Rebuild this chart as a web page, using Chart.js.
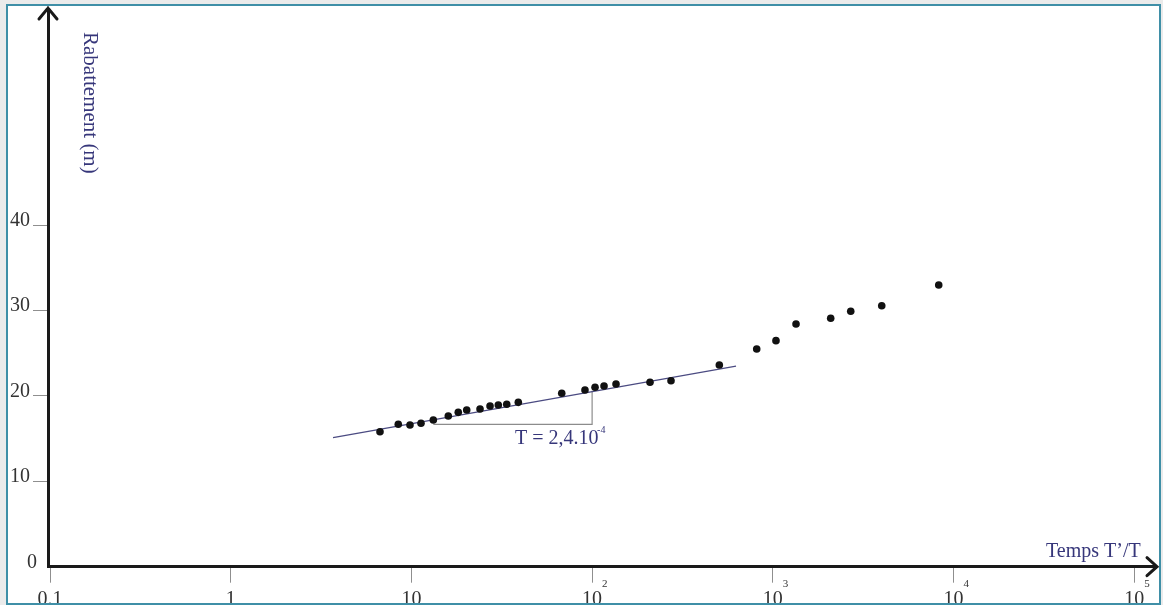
<!DOCTYPE html>
<html>
<head>
<meta charset="utf-8">
<script src="https://cdn.jsdelivr.net/npm/chart.js@4.4.1/dist/chart.umd.min.js"></script>
<style>
  html, body { margin: 0; padding: 0; background: #ebebeb; width: 1163px; height: 605px; overflow: hidden; }
  #frame { position: absolute; left: 6px; top: 4px; width: 1155px; height: 601px; box-sizing: border-box;
           border: 2px solid #3f8fa7; background: #fff; overflow: hidden; }
  #wrap { position: absolute; left: -8px; top: -6px; width: 1163px; height: 605px; }
</style>
</head>
<body>
<div id="frame"><div id="wrap"><canvas id="c" width="1163" height="605"></canvas></div></div>
<script>
// Temps T'/T (axe logarithmique) et rabattement résiduel mesuré (m)
const tempsRatio = [6.70, 8.46, 9.82, 11.3, 13.22, 16.0, 18.17, 20.23, 23.97, 27.23, 30.26, 33.69, 39.05,
                    67.9, 91.3, 103.8, 116.4, 135.6, 209.1, 273.3, 505.8, 814.5, 1041, 1344, 2091, 2699, 4006, 8282];
const rabattement = [15.80, 16.67, 16.59, 16.79, 17.17, 17.64, 18.07, 18.34, 18.46, 18.81, 18.93, 19.01, 19.24,
                     20.30, 20.68, 21.00, 21.15, 21.39, 21.59, 21.77, 23.61, 25.48, 26.46, 28.41, 29.08, 29.90, 30.55, 32.98];

// droite d'ajustement (partie linéaire)
const droiteX = [3.683, 625.7];
const droiteY = [15.12, 23.49];

// construction de la pente sur un cycle logarithmique
const penteX = [13.22, 100, 100];
const penteY = [16.65, 16.65, 20.6];

// graduations
const xTicks = [0.1, 1, 10, 100, 1000, 10000, 100000];
const xTickBase = ['0.1', '1', '10', '10', '10', '10', '10'];
const xTickExp = ['', '', '', '2', '3', '4', '5'];
const yTicks = [0, 10, 20, 30, 40];
const yTickLabels = ['0', '10', '20', '30', '40'];

// textes
const yTitle = 'Rabattement (m)';
const xTitle = 'Temps T\u2019/T';
const transLabel = 'T = 2,4.10';
const transExp = '-4';

const serif = "'Liberation Serif', 'DejaVu Serif', serif";
const navy = '#36367a';

const decor = {
  id: 'decor',
  afterDraw(chart) {
    const { ctx, chartArea: a, scales: { x, y } } = chart;
    const x0 = a.left, y0 = a.bottom;
    ctx.save();

    // flèches au bout des axes
    ctx.strokeStyle = '#1a1a1a';
    ctx.lineWidth = 3;
    ctx.lineCap = 'round';
    ctx.lineJoin = 'miter';
    ctx.beginPath();
    ctx.moveTo(x0, a.top); ctx.lineTo(x0, a.top - 2);
    ctx.moveTo(x0 - 9, a.top + 9); ctx.lineTo(x0, a.top - 2); ctx.lineTo(x0 + 9, a.top + 9);
    ctx.moveTo(a.right, y0); ctx.lineTo(a.right + 2, y0);
    ctx.moveTo(a.right - 8, y0 - 9); ctx.lineTo(a.right + 2, y0); ctx.lineTo(a.right - 8, y0 + 9);
    ctx.stroke();

    // étiquettes de l'axe horizontal (puissances de 10)
    ctx.fillStyle = '#333';
    ctx.textBaseline = 'alphabetic';
    xTicks.forEach((v, i) => {
      const px = x.getPixelForValue(v);
      ctx.font = `20px ${serif}`;
      ctx.textAlign = 'center';
      ctx.fillText(xTickBase[i], px, 604.5);
      if (xTickExp[i]) {
        const w = ctx.measureText(xTickBase[i]).width;
        ctx.font = `11px ${serif}`;
        ctx.textAlign = 'left';
        ctx.fillText(xTickExp[i], px + w / 2, 587);
      }
    });

    // étiquettes de l'axe vertical
    ctx.font = `20px ${serif}`;
    ctx.textAlign = 'right';
    yTicks.forEach((v, i) => {
      const py = y.getPixelForValue(v);
      ctx.fillText(yTickLabels[i], v === 0 ? x0 - 11 : x0 - 18, py + 1);
    });

    // titres des axes
    ctx.fillStyle = navy;
    ctx.font = `20px ${serif}`;
    ctx.textAlign = 'left';
    ctx.fillText(xTitle, a.right - 109, y0 - 10);
    ctx.save();
    ctx.translate(x0 + 36, a.top + 22);
    ctx.rotate(Math.PI / 2);
    ctx.font = `21px ${serif}`;
    ctx.fillText(yTitle, 0, 0);
    ctx.restore();

    // valeur de la transmissivité
    const tx = x.getPixelForValue(penteX[1]);
    const ty = y.getPixelForValue(penteY[0]);
    ctx.textAlign = 'right';
    ctx.font = `20px ${serif}`;
    ctx.fillText(transLabel, tx + 6.5, ty + 19.5);
    ctx.textAlign = 'left';
    ctx.font = `10px ${serif}`;
    ctx.fillText(transExp, tx + 5, ty + 9);

    ctx.restore();
  }
};

new Chart(document.getElementById('c'), {
  type: 'scatter',
  data: {
    datasets: [
      {
        data: tempsRatio.map((t, i) => ({ x: t, y: rabattement[i] })),
        backgroundColor: '#111',
        borderColor: '#111',
        borderWidth: 0,
        pointRadius: 3.8,
        showLine: false
      },
      {
        data: droiteX.map((t, i) => ({ x: t, y: droiteY[i] })),
        showLine: true,
        borderColor: '#4b4b82',
        borderWidth: 1.2,
        pointRadius: 0
      },
      {
        data: penteX.map((t, i) => ({ x: t, y: penteY[i] })),
        showLine: true,
        borderColor: '#8c8c8c',
        borderWidth: 1.2,
        pointRadius: 0
      }
    ]
  },
  options: {
    responsive: false,
    animation: false,
    devicePixelRatio: 1,
    layout: { padding: { left: 33, top: 10, right: 8, bottom: 22.3 } },
    plugins: { legend: { display: false }, tooltip: { enabled: false } },
    scales: {
      x: {
        type: 'logarithmic',
        min: 0.09748,
        max: 130300,
        bounds: 'data',
        afterBuildTicks: s => { s.ticks = xTicks.map(v => ({ value: v })); },
        ticks: { display: false },
        grid: { display: true, drawOnChartArea: false, drawTicks: true, tickLength: 16, color: '#8f8f8f', lineWidth: 1 },
        border: { display: true, color: '#1a1a1a', width: 3 }
      },
      y: {
        type: 'linear',
        min: 0,
        max: 65.17,
        bounds: 'data',
        afterBuildTicks: s => { s.ticks = yTicks.map(v => ({ value: v })); },
        ticks: { display: false },
        grid: {
          display: true, drawOnChartArea: false, drawTicks: true, tickLength: 15, lineWidth: 1,
          color: c => (c.tick && c.tick.value === 0) ? 'rgba(0,0,0,0)' : '#8f8f8f'
        },
        border: { display: true, color: '#1a1a1a', width: 3 }
      }
    }
  },
  plugins: [decor]
});
</script>
</body>
</html>
